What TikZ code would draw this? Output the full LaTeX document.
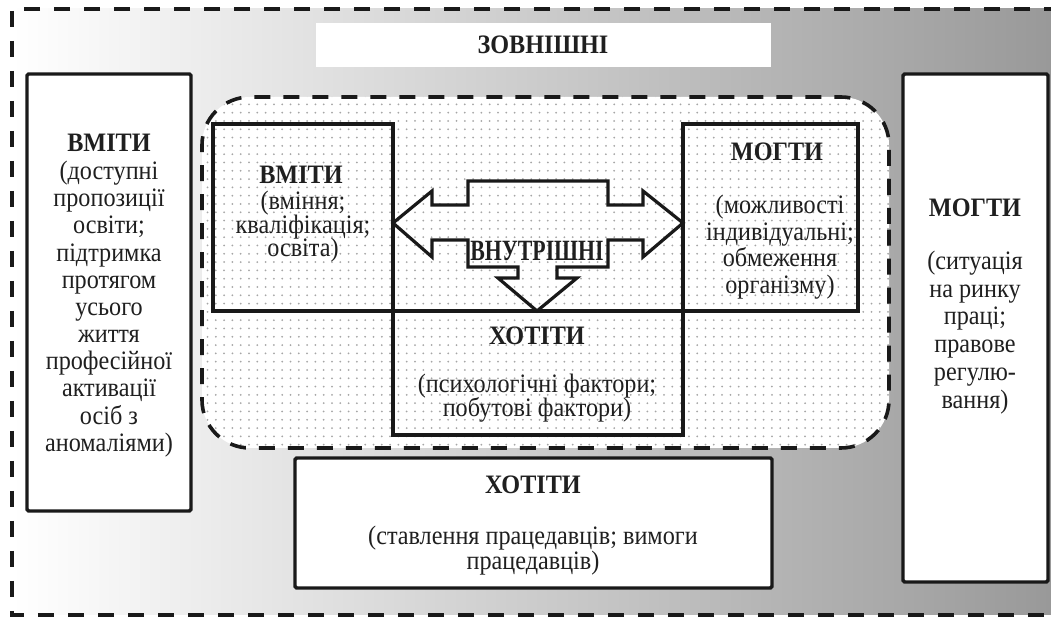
\documentclass[tikz,border=0pt]{standalone}
\usepackage{fontspec}
\setmainfont{Liberation Serif}
\usetikzlibrary{patterns.meta,fit}
\begin{document}
\lineskiplimit=-100pt
\begin{tikzpicture}[x=0.5pt,y=-0.5pt,
  box/.style={draw=black!90, line width=1.7pt, fill=white, inner sep=0pt, outer sep=0pt, rounded corners=0.8pt},
  ibox/.style={draw=black!90, line width=1.6pt, inner sep=0pt, outer sep=0pt},
  txt/.style={text=black!88, align=center, yscale=1.1, inner sep=0pt, font=\fontsize{12.1}{#1}\selectfont},
  txt/.default=12.3,
  ttl/.style={text=black!88, yscale=1.1, inner sep=0pt, font=\fontsize{12.1}{12}\selectfont\bfseries},
  frame/.style={line width=1.8pt, draw=black!90, dash pattern=on 8pt off 7pt},
]
\useasboundingbox (0,0) rectangle (1051,619);
\clip (0,0) rectangle (1051,619);
% gradient background
\shade[left color=white, right color=black!40] (12,9) rectangle (1051,615);
\draw[frame] (1060,9) -- (12,9) -- (12,615) -- (1060,615);
% top label box
\node[fill=white, inner sep=0pt, fit={(316,23) (771,67)}] (zovn) {};
\node[ttl] (zovnt) at (543,45) {ЗОВНІШНІ};
% inner dotted region
\path[fill=white, rounded corners=24pt] (202,97) rectangle (889,448);
\path[pattern={Dots[distance=4.15pt, radius=0.5pt]}, pattern color=black!35, rounded corners=24pt] (202,97) rectangle (889,448);
\draw[line width=1.8pt, draw=black!90, dash pattern=on 8pt off 6.5pt, rounded corners=24pt] (889,272) -- (889,97) -- (202,97) -- (202,448) -- (889,448) -- cycle;
% outer boxes
\node[box, fit={(27,74) (191,511)}] (lout) {};
\node[box, fit={(903,74) (1048,582)}] (rout) {};
\node[box, fit={(295,458) (772,588)}] (bout) {};
% inner boxes
\node[ibox, fit={(213,124) (393,311)}] (lin) {};
\node[ibox, fit={(683,124) (858,311)}] (rin) {};
\node[ibox, fit={(393,311) (683,435)}] (bin) {};
% arrow
\draw[line width=1.6pt, draw=black!90, line join=miter]
 (393,223) -- (432,191) -- (432,205) -- (468,205) -- (468,181) -- (608,181) -- (608,205) -- (643,205) -- (643,191) -- (683,223) -- (643,257) -- (643,240) -- (608,240) -- (608,267) -- (557,267) -- (557,278) -- (577,278) -- (537,311) -- (498,278) -- (518,278) -- (518,267) -- (468,267) -- (468,240) -- (432,240) -- (432,257) -- cycle;
% texts
\node[ttl] (lt) at (109,143) {ВМІТИ};
\node[txt=12.36] (lb) at (109,309) {(доступні\\пропозиції\\освіти;\\підтримка\\протягом\\усього\\життя\\професійної\\активації\\осіб з\\аномаліями)};
\node[ttl] (rt) at (975,208) {МОГТИ};
\node[txt=12.64] (rb) at (975,332.5) {(ситуація\\на ринку\\праці;\\правове\\регулю-\\вання)};
\node[ttl] (lit) at (301,175) {ВМІТИ};
\node[txt=10.7] (lib) at (303,227) {(вміння;\\кваліфікація;\\освіта)};
\node[ttl] (rit) at (777,152) {МОГТИ};
\node[txt=12.1] (rib) at (780,247) {(можливості\\індивідуальні;\\обмеження\\організму)};
\node[text=black!88, yscale=1.35, inner sep=0pt, font=\fontsize{10.9}{12}\selectfont\bfseries] (vn) at (537,251) {ВНУТРІШНІ};
\node[ttl] (bit) at (537,336) {ХОТІТИ};
\node[txt=11] (bib) at (537,398) {(психологічні фактори;\\побутові фактори)};
\node[ttl] (bot) at (533,485) {ХОТІТИ};
\node[txt=11.4] (bob) at (533,550.5) {(ставлення працедавців; вимоги\\працедавців)};
\end{tikzpicture}
\end{document}
